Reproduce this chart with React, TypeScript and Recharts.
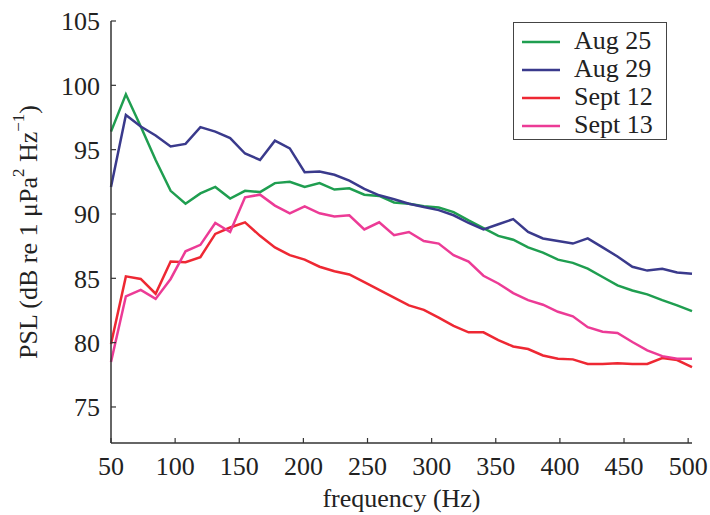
import { LineChart, Line, XAxis, YAxis, Legend } from 'recharts';

// frequency bins (Hz)
const freqs = [50, 61.6, 73.2, 84.8, 96.5, 108.1, 119.7, 131.3, 142.9, 154.5, 166.2, 177.8, 189.4, 201, 212.6, 224.2, 235.8, 247.5, 259.1, 270.7, 282.3, 293.9, 305.5, 317.1, 328.8, 340.4, 352, 363.6, 375.2, 386.8, 398.5, 410.1, 421.7, 433.3, 444.9, 456.5, 468.1, 479.8, 491.4, 503];

// PSL values per recording day
const aug25 = [96.4, 99.3, 96.8, 94.2, 91.8, 90.8, 91.6, 92.1, 91.2, 91.8, 91.7, 92.4, 92.5, 92.1, 92.4, 91.9, 92.0, 91.5, 91.4, 90.9, 90.8, 90.6, 90.5, 90.15, 89.5, 88.9, 88.3, 88.0, 87.4, 87.0, 86.45, 86.2, 85.75, 85.1, 84.45, 84.05, 83.75, 83.3, 82.9, 82.45];
const aug29 = [92.1, 97.7, 96.8, 96.1, 95.25, 95.45, 96.75, 96.4, 95.9, 94.7, 94.2, 95.7, 95.1, 93.25, 93.3, 93.05, 92.6, 91.95, 91.45, 91.15, 90.8, 90.55, 90.3, 89.9, 89.3, 88.8, 89.2, 89.6, 88.6, 88.1, 87.9, 87.7, 88.1, 87.4, 86.7, 85.9, 85.6, 85.75, 85.45, 85.35];
const sept12 = [79.9, 85.15, 84.95, 83.8, 86.3, 86.25, 86.65, 88.45, 88.95, 89.35, 88.3, 87.4, 86.8, 86.45, 85.9, 85.55, 85.3, 84.7, 84.1, 83.5, 82.9, 82.55, 81.95, 81.3, 80.8, 80.8, 80.2, 79.7, 79.5, 79.0, 78.75, 78.7, 78.35, 78.35, 78.4, 78.35, 78.35, 78.8, 78.65, 78.1];
const sept13 = [78.5, 83.6, 84.1, 83.4, 84.95, 87.1, 87.6, 89.3, 88.6, 91.3, 91.5, 90.65, 90.05, 90.6, 90.05, 89.8, 89.9, 88.8, 89.35, 88.35, 88.6, 87.9, 87.7, 86.8, 86.3, 85.2, 84.6, 83.85, 83.3, 82.95, 82.4, 82.05, 81.2, 80.85, 80.75, 80.05, 79.4, 78.95, 78.75, 78.75];

const xTicks = [50, 100, 150, 200, 250, 300, 350, 400, 450, 500];
const yTicks = [75, 80, 85, 90, 95, 100, 105];

const series = [
  { key: 'aug25', name: 'Aug 25', color: '#1f9e50' },
  { key: 'aug29', name: 'Aug 29', color: '#3a3a8c' },
  { key: 'sept12', name: 'Sept 12', color: '#ee2833' },
  { key: 'sept13', name: 'Sept 13', color: '#ec3b96' },
];

const data = freqs.map((f, i) => ({
  freq: f,
  aug25: aug25[i],
  aug29: aug29[i],
  sept12: sept12[i],
  sept13: sept13[i],
}));

const FONT = 'Liberation Serif, DejaVu Serif, Times New Roman, Times, serif';
const INK = '#222';

// y-axis title with superscripts
const YTitle = ({ viewBox }: any) => {
  const cx = 28;
  const cy = viewBox.y + viewBox.height / 2;
  return (
    <text
      x={0}
      y={0}
      transform={`translate(${cx},${cy}) rotate(-90)`}
      textAnchor="middle"
      dominantBaseline="central"
      fontFamily={FONT}
      fontSize={26}
      fill={INK}
    >
      PSL (dB re 1 μPa<tspan dy={-10} fontSize={17}>2</tspan>
      <tspan dy={10}> Hz</tspan>
      <tspan dy={-10} fontSize={17}>−1</tspan>
      <tspan dy={10}>)</tspan>
    </text>
  );
};

// boxed legend in the upper right
const LegendBox = ({ payload }: any) => (
  <div
    style={{
      width: 152,
      height: 112,
      border: '1.5px solid #444',
      background: '#fff',
      fontFamily: FONT,
      fontSize: 26,
      color: INK,
      paddingTop: 4,
      textAlign: 'left',
    }}
  >
    {payload.map((p: any) => (
      <div key={p.value} style={{ display: 'flex', alignItems: 'center', height: 28, lineHeight: '28px' }}>
        <svg width={60} height={28}>
          <line x1={8} x2={46} y1={15} y2={15} stroke={p.color} strokeWidth={2.5} />
        </svg>
        <span>{p.value}</span>
      </div>
    ))}
  </div>
);

export default function App() {
  return (
    <div style={{ position: 'absolute', left: 0, top: 0, background: '#fff' }}>
      <LineChart
        width={710}
        height={515}
        data={data}
        margin={{ top: 21, right: 18, bottom: 0, left: 0 }}
      >
        <XAxis
          dataKey="freq"
          type="number"
          domain={[50, 503]}
          ticks={xTicks}
          height={72}
          tickSize={-5}
          tickMargin={19}
          axisLine={{ stroke: '#333', strokeWidth: 1.5 }}
          tickLine={{ stroke: '#333', strokeWidth: 1.2 }}
          tick={{ fontFamily: FONT, fontSize: 26, fill: INK }}
          label={{
            value: 'frequency (Hz)',
            position: 'insideBottom',
            offset: 8,
            style: { fontFamily: FONT, fontSize: 26, fill: INK },
          }}
        />
        <YAxis
          type="number"
          domain={[72.2, 105]}
          ticks={yTicks}
          width={111}
          tickSize={-5}
          tickMargin={16}
          axisLine={{ stroke: '#333', strokeWidth: 1.5 }}
          tickLine={{ stroke: '#333', strokeWidth: 1.2 }}
          tick={{ fontFamily: FONT, fontSize: 26, fill: INK }}
          label={{ content: YTitle }}
        />
        <Legend
          layout="vertical"
          verticalAlign="middle"
          align="center"
          content={LegendBox}
          wrapperStyle={{ position: 'absolute', left: 513, top: 22, width: 'auto', height: 'auto' }}
        />
        {series.map((s) => (
          <Line
            key={s.key}
            type="linear"
            dataKey={s.key}
            name={s.name}
            stroke={s.color}
            strokeWidth={2.5}
            dot={false}
            isAnimationActive={false}
          />
        ))}
      </LineChart>
    </div>
  );
}
